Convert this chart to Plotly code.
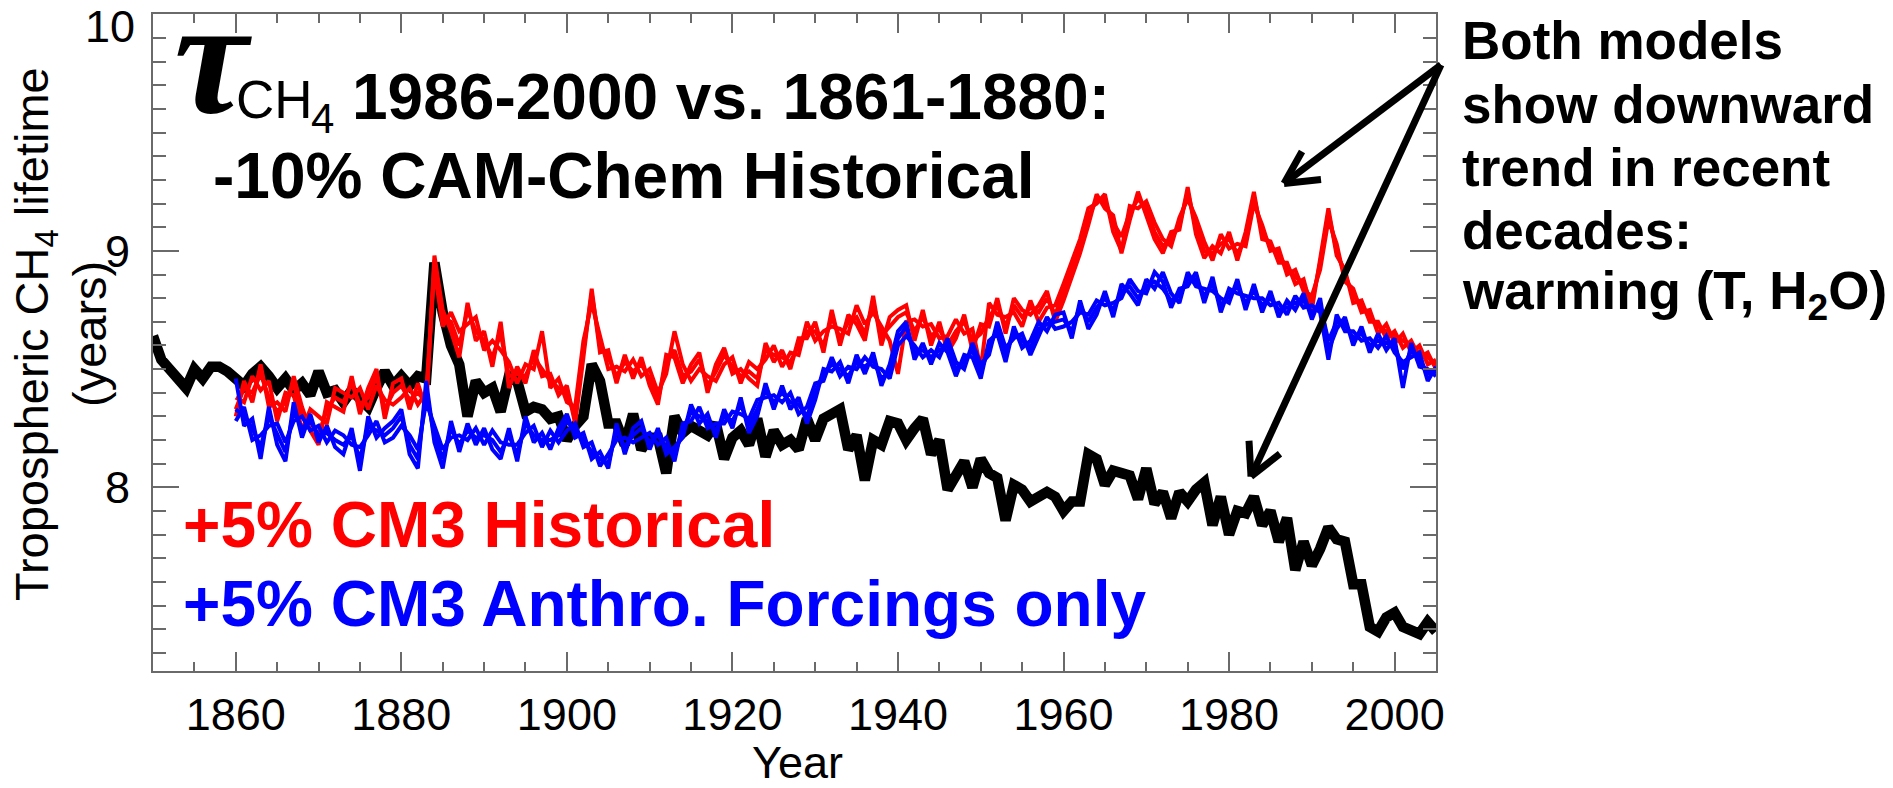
import plotly.graph_objects as go

# ---------------- data ----------------
years_cam = list(range(1850, 2006))
years_cm3 = list(range(1860, 2006))

cam_chem = [
    8.64, 8.54, 8.50, 8.46, 8.42, 8.50, 8.46, 8.51, 8.51, 8.49,
    8.46, 8.43, 8.48, 8.51, 8.47, 8.42, 8.46, 8.41, 8.44, 8.39,
    8.49, 8.40, 8.41, 8.36, 8.41, 8.38, 8.34, 8.42, 8.49, 8.43,
    8.47, 8.43, 8.47, 8.46, 8.95, 8.74, 8.60, 8.52, 8.30, 8.45,
    8.40, 8.42, 8.32, 8.47, 8.45, 8.32, 8.34, 8.33, 8.29, 8.30,
    8.20, 8.26, 8.30, 8.52, 8.45, 8.27, 8.27, 8.18, 8.31, 8.16,
    8.21, 8.21, 8.06, 8.30, 8.23, 8.26, 8.24, 8.22, 8.27, 8.12,
    8.21, 8.24, 8.18, 8.29, 8.13, 8.24, 8.18, 8.20, 8.16, 8.29,
    8.20, 8.29, 8.31, 8.33, 8.16, 8.22, 8.03, 8.20, 8.18, 8.28,
    8.27, 8.20, 8.25, 8.29, 8.14, 8.20, 7.99, 8.05, 8.11, 8.00,
    8.12, 8.06, 8.04, 7.86, 8.01, 7.99, 7.94, 7.96, 7.98, 7.96,
    7.90, 7.94, 7.94, 8.14, 8.12, 8.01, 8.07, 8.06, 8.05, 7.95,
    8.08, 7.93, 7.98, 7.87, 7.98, 7.94, 7.99, 8.02, 7.84, 7.96,
    7.80, 7.90, 7.89, 7.96, 7.84, 7.90, 7.77, 7.87, 7.65, 7.77,
    7.67, 7.74, 7.83, 7.78, 7.77, 7.59, 7.59, 7.41, 7.39, 7.45,
    7.47, 7.41, 7.39, 7.38, 7.43, 7.39,
]

cm3_hist_1 = [
    8.33, 8.42, 8.40, 8.48, 8.38, 8.32, 8.36, 8.44, 8.30, 8.28,
    8.22, 8.33, 8.38, 8.36, 8.44, 8.35, 8.38, 8.47, 8.33, 8.40,
    8.43, 8.37, 8.40, 8.36, 8.96, 8.72, 8.70, 8.60, 8.75, 8.66,
    8.62, 8.55, 8.65, 8.47, 8.48, 8.47, 8.55, 8.50, 8.45, 8.42,
    8.40, 8.30, 8.58, 8.82, 8.60, 8.55, 8.47, 8.53, 8.49, 8.52,
    8.46, 8.37, 8.53, 8.58, 8.47, 8.49, 8.54, 8.43, 8.49, 8.56,
    8.51, 8.47, 8.49, 8.46, 8.58, 8.56, 8.55, 8.53, 8.60, 8.66,
    8.66, 8.60, 8.72, 8.63, 8.70, 8.72, 8.65, 8.78, 8.64, 8.68,
    8.72, 8.74, 8.66, 8.72, 8.64, 8.67, 8.60, 8.66, 8.70, 8.62,
    8.65, 8.72, 8.77, 8.68, 8.77, 8.72, 8.76, 8.74, 8.80, 8.73,
    8.82, 8.92, 9.02, 9.14, 9.22, 9.21, 9.12, 9.06, 9.16, 9.22,
    9.18, 9.08, 9.02, 9.05, 9.11, 9.25, 9.10, 9.00, 8.99, 9.03,
    9.05, 8.99, 9.05, 9.23, 9.08, 9.02, 8.98, 8.93, 8.89, 8.86,
    8.78, 8.95, 9.16, 9.00, 8.90, 8.81, 8.77, 8.72, 8.68, 8.66,
    8.64, 8.62, 8.60, 8.57, 8.55, 8.52,
]
cm3_hist_2 = [
    8.38, 8.36, 8.47, 8.41, 8.45, 8.28, 8.40, 8.39, 8.24, 8.33,
    8.30, 8.27, 8.42, 8.40, 8.38, 8.42, 8.33, 8.43, 8.37, 8.35,
    8.38, 8.42, 8.35, 8.40, 8.92, 8.68, 8.74, 8.66, 8.69, 8.72,
    8.58, 8.62, 8.58, 8.53, 8.44, 8.52, 8.50, 8.66, 8.42, 8.46,
    8.36, 8.34, 8.62, 8.78, 8.64, 8.50, 8.51, 8.49, 8.54, 8.47,
    8.50, 8.40, 8.48, 8.66, 8.52, 8.45, 8.50, 8.47, 8.45, 8.52,
    8.55, 8.44, 8.53, 8.50, 8.54, 8.60, 8.51, 8.57, 8.56, 8.70,
    8.62, 8.66, 8.68, 8.67, 8.65, 8.77, 8.69, 8.74, 8.68, 8.62,
    8.48, 8.70, 8.71, 8.68, 8.69, 8.63, 8.64, 8.71, 8.65, 8.67,
    8.50, 8.78, 8.73, 8.72, 8.74, 8.68, 8.79, 8.70, 8.76, 8.77,
    8.86, 8.96, 9.05, 9.18, 9.20, 9.24, 9.08, 9.00, 9.19, 9.18,
    9.21, 9.12, 9.05, 9.02, 9.14, 9.22, 9.14, 9.04, 8.96, 9.07,
    9.01, 9.03, 9.02, 9.20, 9.11, 9.00, 9.01, 8.90, 8.92, 8.83,
    8.81, 8.92, 9.13, 9.03, 8.87, 8.84, 8.74, 8.75, 8.65, 8.69,
    8.61, 8.65, 8.57, 8.60, 8.52, 8.54,
]
cm3_hist_3 = [
    8.30, 8.45, 8.36, 8.52, 8.34, 8.36, 8.32, 8.47, 8.34, 8.24,
    8.18, 8.36, 8.34, 8.32, 8.47, 8.31, 8.42, 8.50, 8.29, 8.44,
    8.46, 8.33, 8.44, 8.33, 8.98, 8.75, 8.66, 8.55, 8.78, 8.62,
    8.66, 8.51, 8.70, 8.42, 8.51, 8.44, 8.58, 8.47, 8.48, 8.39,
    8.43, 8.27, 8.55, 8.84, 8.57, 8.58, 8.44, 8.56, 8.46, 8.55,
    8.43, 8.35, 8.56, 8.55, 8.44, 8.52, 8.57, 8.40, 8.52, 8.59,
    8.48, 8.50, 8.46, 8.43, 8.61, 8.53, 8.58, 8.50, 8.63, 8.63,
    8.70, 8.57, 8.75, 8.60, 8.73, 8.69, 8.62, 8.81, 8.60, 8.72,
    8.75, 8.77, 8.62, 8.75, 8.60, 8.70, 8.57, 8.63, 8.73, 8.58,
    8.69, 8.68, 8.80, 8.65, 8.80, 8.75, 8.73, 8.77, 8.83, 8.70,
    8.79, 8.89, 8.99, 9.11, 9.24, 9.18, 9.15, 8.99, 9.13, 9.25,
    9.15, 9.05, 8.99, 9.08, 9.09, 9.27, 9.07, 8.97, 9.02, 8.99,
    9.08, 8.96, 9.08, 9.25, 9.05, 9.04, 8.95, 8.95, 8.86, 8.88,
    8.75, 8.97, 9.18, 8.98, 8.92, 8.78, 8.79, 8.70, 8.70, 8.63,
    8.66, 8.59, 8.62, 8.55, 8.57, 8.50,
]

cm3_anthro_1 = [
    8.33, 8.30, 8.25, 8.17, 8.30, 8.22, 8.15, 8.32, 8.25, 8.28,
    8.22, 8.23, 8.20, 8.18, 8.22, 8.12, 8.26, 8.24, 8.22, 8.25,
    8.30, 8.18, 8.12, 8.40, 8.22, 8.12, 8.25, 8.18, 8.24, 8.21,
    8.22, 8.20, 8.15, 8.22, 8.14, 8.27, 8.22, 8.20, 8.20, 8.22,
    8.28, 8.24, 8.20, 8.15, 8.12, 8.10, 8.24, 8.17, 8.22, 8.25,
    8.19, 8.22, 8.17, 8.14, 8.24, 8.32, 8.30, 8.28, 8.24, 8.30,
    8.28, 8.35, 8.26, 8.33, 8.41, 8.36, 8.40, 8.36, 8.35, 8.30,
    8.40, 8.48, 8.52, 8.50, 8.47, 8.53, 8.51, 8.54, 8.46, 8.49,
    8.63, 8.68, 8.57, 8.58, 8.55, 8.58, 8.60, 8.50, 8.53, 8.58,
    8.49, 8.59, 8.67, 8.56, 8.66, 8.62, 8.59, 8.67, 8.69, 8.70,
    8.71, 8.66, 8.77, 8.70, 8.76, 8.80, 8.75, 8.83, 8.85, 8.80,
    8.85, 8.87, 8.84, 8.79, 8.81, 8.88, 8.88, 8.81, 8.86, 8.77,
    8.81, 8.85, 8.78, 8.83, 8.77, 8.80, 8.75, 8.76, 8.78, 8.79,
    8.74, 8.77, 8.62, 8.70, 8.69, 8.63, 8.65, 8.60, 8.62, 8.61,
    8.60, 8.50, 8.58, 8.54, 8.48, 8.49,
]
cm3_anthro_2 = [
    8.28, 8.34, 8.20, 8.22, 8.26, 8.27, 8.19, 8.28, 8.30, 8.24,
    8.26, 8.19, 8.24, 8.22, 8.18, 8.17, 8.22, 8.28, 8.19, 8.21,
    8.26, 8.22, 8.16, 8.36, 8.26, 8.16, 8.21, 8.22, 8.20, 8.25,
    8.18, 8.24, 8.19, 8.18, 8.18, 8.23, 8.26, 8.17, 8.24, 8.19,
    8.24, 8.27, 8.17, 8.19, 8.09, 8.14, 8.20, 8.21, 8.19, 8.21,
    8.23, 8.18, 8.21, 8.11, 8.27, 8.28, 8.34, 8.25, 8.27, 8.27,
    8.32, 8.31, 8.29, 8.37, 8.38, 8.39, 8.36, 8.40, 8.31, 8.34,
    8.44, 8.45, 8.55, 8.47, 8.51, 8.50, 8.55, 8.51, 8.50, 8.46,
    8.60, 8.64, 8.60, 8.55, 8.58, 8.55, 8.63, 8.53, 8.50, 8.61,
    8.52, 8.56, 8.70, 8.59, 8.63, 8.65, 8.56, 8.64, 8.72, 8.67,
    8.68, 8.70, 8.74, 8.73, 8.79, 8.77, 8.78, 8.80, 8.88, 8.83,
    8.82, 8.91, 8.87, 8.76, 8.84, 8.85, 8.91, 8.78, 8.89, 8.74,
    8.84, 8.82, 8.81, 8.80, 8.80, 8.77, 8.78, 8.73, 8.81, 8.76,
    8.77, 8.74, 8.54, 8.73, 8.66, 8.66, 8.62, 8.63, 8.59, 8.64,
    8.57, 8.53, 8.55, 8.57, 8.45, 8.51,
]
cm3_anthro_3 = [
    8.46, 8.26, 8.29, 8.12, 8.34, 8.18, 8.11, 8.36, 8.21, 8.31,
    8.19, 8.26, 8.17, 8.14, 8.25, 8.07, 8.30, 8.21, 8.25, 8.28,
    8.33, 8.14, 8.08, 8.45, 8.19, 8.08, 8.28, 8.15, 8.27, 8.18,
    8.25, 8.16, 8.12, 8.25, 8.11, 8.30, 8.19, 8.23, 8.16, 8.25,
    8.31, 8.21, 8.23, 8.12, 8.15, 8.08, 8.27, 8.14, 8.25, 8.28,
    8.16, 8.25, 8.14, 8.17, 8.21, 8.35, 8.27, 8.31, 8.21, 8.33,
    8.25, 8.38, 8.23, 8.30, 8.44, 8.33, 8.43, 8.33, 8.38, 8.27,
    8.37, 8.50, 8.49, 8.53, 8.44, 8.56, 8.48, 8.57, 8.43, 8.52,
    8.66, 8.70, 8.54, 8.61, 8.52, 8.61, 8.57, 8.47, 8.56, 8.55,
    8.46, 8.62, 8.65, 8.53, 8.68, 8.59, 8.62, 8.70, 8.66, 8.73,
    8.74, 8.63, 8.79, 8.67, 8.73, 8.83, 8.72, 8.86, 8.82, 8.77,
    8.88, 8.84, 8.91, 8.82, 8.78, 8.91, 8.85, 8.84, 8.83, 8.80,
    8.78, 8.88, 8.75, 8.86, 8.74, 8.83, 8.72, 8.79, 8.75, 8.82,
    8.71, 8.80, 8.58, 8.67, 8.72, 8.60, 8.68, 8.57, 8.65, 8.58,
    8.63, 8.42, 8.61, 8.51, 8.50, 8.47,
]

x_tick_labels = ["1860", "1880", "1900", "1920", "1940", "1960", "1980", "2000"]
x_tick_values = [1860, 1880, 1900, 1920, 1940, 1960, 1980, 2000]
y_tick_labels = ["8", "9", "10"]
y_tick_values = [8, 9, 10]

# ---------------- figure ----------------
W, H = 1893, 788
L, R, T, B = 153, 457, 12, 117
AX = "#6a6a6a"
SANS = "Liberation Sans, Arial, sans-serif"


def pxx(x):
    return (x - L) / (W - L - R)


def pxy(y):
    return (H - B - y) / (H - T - B)


fig = go.Figure()
fig.add_trace(go.Scatter(x=years_cam, y=cam_chem, mode="lines",
                         line=dict(color="black", width=10.5), showlegend=False,
                         name="CAM-Chem Historical"))
for m in (cm3_hist_1, cm3_hist_2, cm3_hist_3):
    fig.add_trace(go.Scatter(x=years_cm3, y=m, mode="lines",
                             line=dict(color="#ff0000", width=4), showlegend=False,
                             name="CM3 Historical"))
for m in (cm3_anthro_1, cm3_anthro_2, cm3_anthro_3):
    fig.add_trace(go.Scatter(x=years_cm3, y=m, mode="lines",
                             line=dict(color="#0000ff", width=4), showlegend=False,
                             name="CM3 Anthro. Forcings only"))

fig.update_layout(
    width=W, height=H,
    margin=dict(l=L, r=R, t=T, b=B, pad=0),
    paper_bgcolor="white", plot_bgcolor="white",
    font=dict(family=SANS, color="black"),
    showlegend=False,
)

fig.update_xaxes(
    range=[1850, 2005], tickmode="array", tickvals=x_tick_values, ticktext=x_tick_labels,
    ticks="inside", ticklen=19, tickwidth=2, tickcolor=AX,
    showline=True, linecolor=AX, linewidth=2, mirror="ticks",
    showgrid=False, zeroline=False,
    minor=dict(tickmode="linear", tick0=1850, dtick=5, ticks="inside", ticklen=9,
               tickwidth=2, tickcolor=AX, showgrid=False),
    tickfont=dict(family=SANS, size=45, color="black"),
    ticklabelstandoff=3,
)
fig.update_yaxes(
    range=[7.223, 10.002], tickmode="array", tickvals=y_tick_values,
    ticktext=y_tick_labels[:2] + [" "],
    ticks="inside", ticklen=26, tickwidth=2, tickcolor=AX,
    showline=True, linecolor=AX, linewidth=2, mirror="ticks",
    showgrid=False, zeroline=False,
    minor=dict(tickmode="linear", tick0=7, dtick=0.1, ticks="inside", ticklen=13,
               tickwidth=2, tickcolor=AX, showgrid=False),
    tickfont=dict(family=SANS, size=45, color="black"),
    ticklabelstandoff=12,
)

ann = []


def text(x, y, s, size, bold=False, color="black", family=SANS, anchor="left", angle=0):
    ann.append(dict(xref="paper", yref="paper", x=pxx(x), y=pxy(y), text=s,
                    showarrow=False, xanchor=anchor, yanchor="middle",
                    textangle=angle,
                    font=dict(family=family, size=size, color=color,
                              weight="bold" if bold else "normal")))


# top y tick label (the reference draws it just below the frame corner)
text(137, 25, y_tick_labels[2], 45, anchor="right")

# title block
ann.append(dict(xref="paper", yref="paper", x=pxx(172), y=pxy(54), text="<i>τ</i>",
                showarrow=False, xanchor="left", yanchor="middle",
                font=dict(family="Liberation Serif, Times New Roman, serif", size=166,
                          color="black", weight="bold")))
text(234, 98, "CH", 53)
text(309, 117, "4", 42)
text(350, 95, "1986-2000 vs. 1861-1880:", 64, bold=True)
text(211, 174, "-10% CAM-Chem Historical", 64, bold=True)

# legend-like coloured labels
text(181, 525, "+5% CM3 Historical", 64, bold=True, color="#ff0000")
text(181, 604, "+5% CM3 Anthro. Forcings only", 64, bold=True, color="#0000ff")

# right-hand note
note = ["Both models", "show downward", "trend in recent", "decades:",
        "warming (T, H<sub>2</sub>O)"]
for i, line in enumerate(note):
    text(1460, 39 + i * 63.5, line, 53, bold=True)

# axis titles
text(35, 333, "Tropospheric CH<sub>4</sub> lifetime", 47, anchor="center", angle=-90)
text(89, 333, "(years)", 47, anchor="center", angle=-90)
text(797, 763, "Year", 45, anchor="center")

fig.update_layout(annotations=ann)

# arrows drawn as open "V" heads (pixel positions of the picture)
tail = (1441, 63)
arrows = [
    dict(tip=(1284, 182), legs=[(1302, 150), (1321, 178)]),
    dict(tip=(1251, 476), legs=[(1249, 440), (1280, 453)]),
]
for a in arrows:
    segs = [(tail, a["tip"])] + [(a["tip"], leg) for leg in a["legs"]]
    for (x0, y0), (x1, y1) in segs:
        fig.add_shape(type="line", xref="paper", yref="paper",
                      x0=pxx(x0), y0=pxy(y0), x1=pxx(x1), y1=pxy(y1),
                      line=dict(color="black", width=7), layer="above")

fig.write_html("out.html")
